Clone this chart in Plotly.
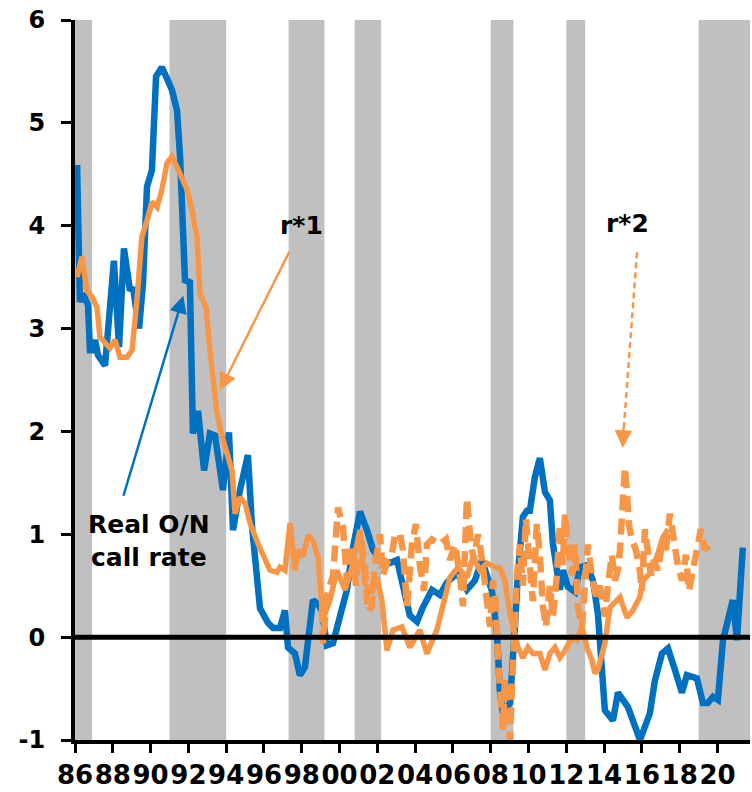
import plotly.graph_objects as go

# ---------------- data ----------------
blue_years = [1986.11, 1986.26, 1986.42, 1986.69, 1986.79, 1986.95, 1987.06, 1987.22, 1987.59, 1988.06,
              1988.33, 1988.59, 1988.91, 1989.07, 1989.39, 1989.60, 1989.81, 1990.07, 1990.29, 1990.60,
              1990.87, 1991.13, 1991.40, 1991.56, 1991.82, 1992.08, 1992.24, 1992.51, 1992.83, 1993.14,
              1993.41, 1993.83, 1994.15, 1994.36, 1994.73, 1995.15, 1995.37, 1995.79, 1996.21, 1996.48,
              1996.85, 1997.11, 1997.27, 1997.64, 1997.90, 1998.17, 1998.59, 1998.80, 1999.07, 1999.33,
              1999.65, 2000.39, 2000.71, 2001.08, 2001.45, 2001.77, 2002.14, 2002.67, 2003.04, 2003.35,
              2003.72, 2004.10, 2004.41, 2004.89, 2005.31, 2005.68, 2006.21, 2006.74, 2007.16, 2007.53,
              2007.80, 2008.06, 2008.33, 2008.49, 2008.65, 2009.02, 2009.28, 2009.44, 2009.70, 2009.92,
              2010.07, 2010.34, 2010.60, 2010.87, 2011.13, 2011.29, 2011.50, 2011.66, 2011.82, 2012.08,
              2012.46, 2012.72, 2013.09, 2013.41, 2013.67, 2013.88, 2014.04, 2014.47, 2014.73, 2015.26,
              2015.52, 2015.90, 2016.42, 2016.69, 2017.06, 2017.38, 2017.75, 2018.12, 2018.38, 2018.91,
              2019.23, 2019.49, 2019.76, 2020.02, 2020.29, 2020.55, 2020.81, 2021.03, 2021.34]
blue_vals = [4.59, 3.26, 3.34, 3.23, 2.79, 2.79, 2.89, 2.74, 2.64, 3.66,
             2.82, 3.78, 3.37, 3.40, 3.00, 3.44, 4.38, 4.54, 5.45, 5.54,
             5.43, 5.32, 5.12, 4.67, 3.47, 3.45, 1.98, 2.20, 1.62, 1.98,
             1.96, 1.43, 1.99, 1.04, 1.43, 1.77, 1.07, 0.28, 0.14, 0.09,
             0.09, 0.26, -0.10, -0.16, -0.37, -0.29, 0.36, 0.33, 0.26, -0.08,
             -0.06, 0.46, 0.87, 1.22, 1.04, 0.85, 0.75, 0.72, 0.75, 0.49,
             0.21, 0.15, 0.29, 0.46, 0.41, 0.53, 0.62, 0.46, 0.55, 0.75,
             0.60, 0.45, 0.04, -0.54, -0.74, -0.64, 0.10, 0.62, 1.17, 1.23,
             1.23, 1.56, 1.74, 1.41, 1.33, 0.91, 0.65, 0.46, 0.65, 0.49,
             0.44, 0.68, 0.70, 0.55, 0.23, -0.35, -0.71, -0.81, -0.54, -0.68,
             -0.81, -1.00, -0.74, -0.42, -0.16, -0.11, -0.32, -0.54, -0.37, -0.40,
             -0.64, -0.64, -0.58, -0.61, -0.03, 0.19, 0.36, -0.03, 0.87]

r1_years = [1986.11, 1986.37, 1986.63, 1986.90, 1987.16, 1987.32, 1987.59, 1987.85, 1988.12, 1988.38,
            1988.75, 1989.02, 1989.28, 1989.54, 1989.81, 1990.07, 1990.34, 1990.60, 1990.87, 1991.13,
            1991.40, 1991.66, 1991.93, 1992.19, 1992.46, 1992.61, 1992.93, 1993.14, 1993.41, 1993.51,
            1993.78, 1994.04, 1994.31, 1994.47, 1994.73, 1995.00, 1995.26, 1995.68, 1996.05, 1996.32,
            1996.69, 1996.85, 1997.11, 1997.38, 1997.64, 1997.80, 1998.06, 1998.33, 1998.59, 1998.86,
            1999.12, 1999.49, 1999.86, 2000.29, 2000.66, 2001.08, 2001.34, 2001.71, 2001.98, 2002.24,
            2002.51, 2002.83, 2003.30, 2003.72, 2004.25, 2004.62, 2005.15, 2005.47, 2005.84, 2006.26,
            2006.74, 2007.06, 2007.43, 2007.80, 2008.22, 2008.49, 2008.75, 2009.02, 2009.28, 2009.44,
            2009.70, 2009.97, 2010.23, 2010.60, 2010.87, 2011.13, 2011.40, 2011.66, 2011.93, 2012.30,
            2012.56, 2012.83, 2013.09, 2013.35, 2013.51, 2013.67, 2014.04, 2014.31, 2014.84, 2015.21,
            2015.52, 2015.89, 2016.05, 2016.42, 2016.79, 2017.11, 2017.38]
r1_vals = [3.50, 3.70, 3.37, 3.31, 3.21, 2.92, 2.86, 2.81, 2.89, 2.72,
           2.72, 2.79, 3.28, 3.89, 4.05, 4.23, 4.18, 4.35, 4.61, 4.67,
           4.57, 4.47, 4.35, 4.15, 3.89, 3.34, 3.21, 2.79, 2.30, 2.18,
           1.95, 1.79, 1.62, 1.20, 1.36, 1.30, 1.11, 0.91, 0.75, 0.65,
           0.63, 0.68, 0.65, 1.11, 0.65, 0.85, 0.78, 0.99, 0.94, 0.78,
           0.17, 0.36, 0.65, 0.46, 0.68, 1.04, 0.52, 0.43, 0.58, 0.36,
           -0.13, 0.07, 0.10, -0.10, 0.07, -0.16, 0.07, 0.33, 0.58, 0.68,
           0.58, 0.78, 0.65, 0.72, 0.68, 0.67, 0.55, 0.23, 0.00, -0.10,
           -0.20, -0.10, -0.16, -0.16, -0.32, -0.16, -0.10, -0.20, -0.13, 0.00,
           -0.03, 0.10, -0.10, -0.22, -0.35, -0.32, -0.06, 0.29, 0.39, 0.19,
           0.26, 0.39, 0.55, 0.62, 0.78, 0.97, 1.05]

r2_years = [1999.07, 1999.12, 1999.33, 1999.65, 1999.92, 2000.18, 2000.29, 2000.39, 2000.66, 2000.87,
            2001.08, 2001.34, 2001.50, 2001.71, 2001.87, 2002.14, 2002.30, 2002.56, 2002.77, 2002.93,
            2003.20, 2003.35, 2003.57, 2003.83, 2004.04, 2004.25, 2004.47, 2004.62, 2004.89, 2005.31,
            2005.63, 2005.84, 2006.11, 2006.37, 2006.53, 2006.74, 2006.95, 2007.11, 2007.32, 2007.43,
            2007.64, 2007.80, 2007.96, 2008.12, 2008.28, 2008.38, 2008.49, 2008.65, 2008.75, 2008.91,
            2009.02, 2009.12, 2009.23, 2009.39, 2009.54, 2009.70, 2009.86, 2010.07, 2010.23, 2010.44,
            2010.60, 2010.76, 2010.92, 2011.13, 2011.29, 2011.50, 2011.66, 2011.82, 2011.93, 2012.08,
            2012.30, 2012.46, 2012.61, 2012.83, 2012.98, 2013.14, 2013.35, 2013.57, 2013.78, 2014.04,
            2014.20, 2014.41, 2014.57, 2014.73, 2014.84, 2014.99, 2015.10, 2015.21, 2015.31, 2015.47,
            2015.68, 2015.89, 2016.00, 2016.16, 2016.32, 2016.48, 2016.63, 2016.85, 2017.06, 2017.27,
            2017.48, 2017.69, 2017.90, 2018.12, 2018.33, 2018.49, 2018.70, 2018.91, 2019.12, 2019.33,
            2019.60]
r2_vals = [0.30, -0.06, 0.40, 0.60, 1.26, 1.07, 0.80, 0.55, 0.90, 0.50,
           1.00, 0.70, 0.25, 0.30, 0.70, 1.00, 0.60, 0.75, 0.80, 1.00,
           1.00, 0.85, 0.30, 0.90, 1.10, 0.70, 0.45, 0.90, 0.95, 0.90,
           0.95, 0.75, 0.90, 0.60, 0.30, 1.35, 0.90, 0.75, 1.00, 0.90,
           0.60, 0.30, 0.10, 0.55, 0.30, -0.20, -0.60, -0.90, -0.40, -0.80,
           -1.00, -0.50, 0.00, 0.60, 0.90, 0.50, 1.15, 0.70, 0.35, 1.10,
           0.80, 0.30, 0.10, 0.50, 0.20, 0.60, 1.10, 0.70, 1.20, 0.90,
           0.60, 0.90, 0.30, 0.10, 0.50, 0.90, 0.60, 0.40, 0.50, 0.20,
           0.50, 0.80, 0.55, 0.65, 0.85, 1.35, 1.65, 1.40, 1.10, 0.95,
           0.85, 0.65, 0.45, 1.05, 0.80, 0.60, 0.75, 0.65, 0.90, 0.85,
           1.20, 0.95, 0.70, 0.55, 0.80, 0.45, 0.65, 0.90, 1.05, 0.85,
           0.90]

recession_start = [1986.0, 1991.0, 1997.3, 2000.8, 2008.0, 2012.0, 2019.0]
recession_end = [1986.9, 1994.0, 1999.2, 2002.2, 2009.2, 2013.0, 2021.72]

tick_years = list(range(1986, 2021, 2))
tick_labels = ["86", "88", "90", "92", "94", "96", "98", "00", "02", "04",
               "06", "08", "10", "12", "14", "16", "18", "20"]
y_ticks = [-1, 0, 1, 2, 3, 4, 5, 6]

X_MIN, X_MAX = 1986.0, 2021.72
BLUE = "#0070C0"
ORANGE = "#F79646"

fig = go.Figure()

fig.add_trace(go.Scatter(x=blue_years, y=blue_vals, mode="lines",
                         line=dict(color=BLUE, width=6.5), showlegend=False))
fig.add_trace(go.Scatter(x=r2_years, y=r2_vals, mode="lines",
                         line=dict(color=ORANGE, width=6.5, dash="16px,8px"), showlegend=False))
fig.add_trace(go.Scatter(x=r1_years, y=r1_vals, mode="lines",
                         line=dict(color=ORANGE, width=5.5), showlegend=False))

shapes = []
for s, e in zip(recession_start, recession_end):
    shapes.append(dict(type="rect", xref="x", yref="y", x0=s, x1=e, y0=-1, y1=6,
                       fillcolor="#C0C0C0", line=dict(width=0), layer="below"))
# zero line on top
shapes.append(dict(type="line", xref="x", yref="y", x0=X_MIN, x1=X_MAX, y0=0, y1=0,
                   line=dict(color="black", width=5), layer="above"))
# dashed r*2 arrow shaft
shapes.append(dict(type="line", xref="x", yref="y", x0=2015.74, y0=3.74, x1=2015.03, y1=2.0,
                   line=dict(color=ORANGE, width=2.5, dash="6px,4px"), layer="above"))

ann_font = dict(family="DejaVu Sans", size=25, color="black", weight="bold")
annotations = [
    dict(x=1997.96, y=4.0, xref="x", yref="y", text="r*1", showarrow=False, font=ann_font),
    dict(x=2015.26, y=4.02, xref="x", yref="y", text="r*2", showarrow=False, font=ann_font),
    dict(x=1989.94, y=0.93, xref="x", yref="y", text="Real O/N<br>call rate", showarrow=False,
         font=ann_font, align="center"),
    # r*1 arrow
    dict(x=1993.67, y=2.40, ax=1997.38, ay=3.76, xref="x", yref="y", axref="x", ayref="y",
         text="", showarrow=True, arrowhead=2, arrowsize=1.4, arrowwidth=2.5, arrowcolor=ORANGE),
    # blue arrow
    dict(x=1991.73, y=3.32, ax=1988.54, ay=1.36, xref="x", yref="y", axref="x", ayref="y",
         text="", showarrow=True, arrowhead=2, arrowsize=1.4, arrowwidth=2.5, arrowcolor=BLUE),
    # r*2 arrow head
    dict(x=2014.99, y=1.84, ax=2015.03, ay=2.05, xref="x", yref="y", axref="x", ayref="y",
         text="", showarrow=True, arrowhead=2, arrowsize=1.4, arrowwidth=2.5, arrowcolor=ORANGE),
]

fig.update_layout(
    width=752, height=792,
    margin=dict(l=75, r=2, t=20, b=52, autoexpand=False),
    paper_bgcolor="white", plot_bgcolor="white",
    shapes=shapes, annotations=annotations,
    showlegend=False,
)
fig.update_xaxes(range=[X_MIN, X_MAX], tickmode="array", tickvals=tick_years, ticktext=tick_labels,
                 showgrid=False, zeroline=False, showline=True, linecolor="black", linewidth=4,
                 ticks="outside", ticklen=9, tickwidth=3, tickcolor="black", tickangle=0,
                 automargin=False, ticklabeloverflow="allow",
                 tickfont=dict(family="DejaVu Sans", size=26, color="black", weight="bold"))
fig.update_yaxes(range=[-1, 6], tickmode="array", tickvals=y_ticks,
                 ticktext=[str(v) for v in y_ticks],
                 showgrid=False, zeroline=False, showline=True, linecolor="black", linewidth=4,
                 ticks="outside", ticklen=10, tickwidth=3, tickcolor="black", ticklabelstandoff=11,
                 automargin=False, ticklabeloverflow="allow",
                 tickfont=dict(family="DejaVu Sans", size=24, color="black", weight="bold"))

# remove the page's default 8px body margin so the figure fills the window exactly
fig.write_html("out.html", config={"displayModeBar": False},
               post_script="document.body.style.margin='0';")
